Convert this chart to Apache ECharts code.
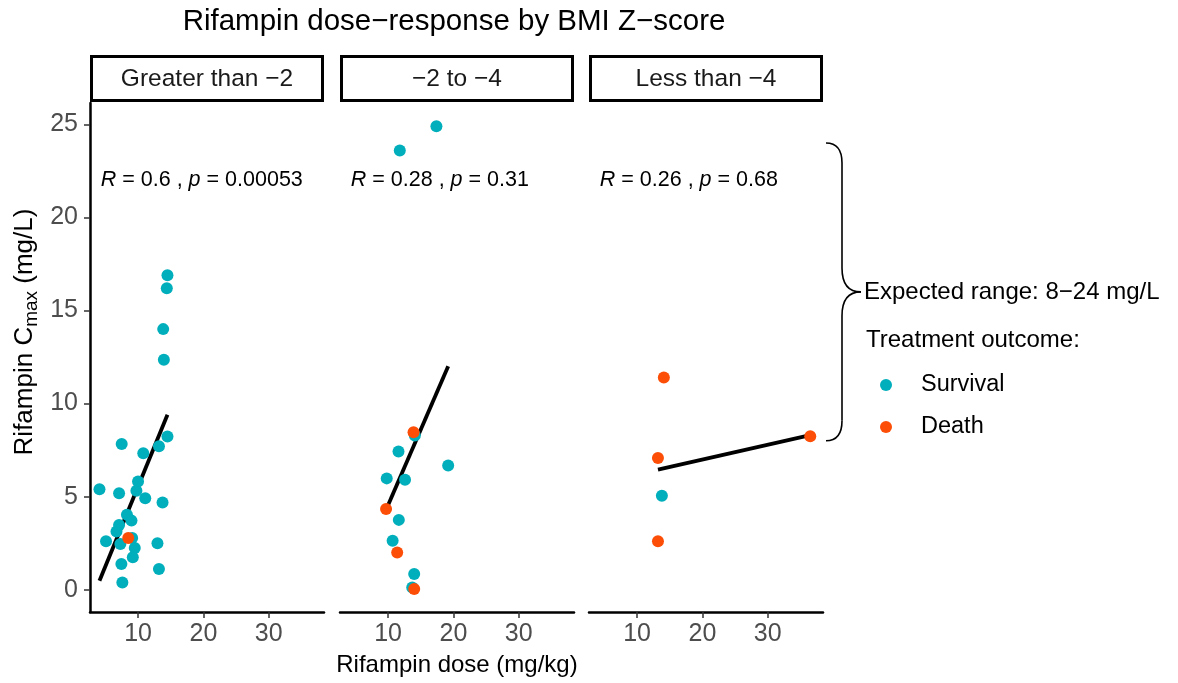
<!DOCTYPE html>
<html><head><meta charset="utf-8">
<script src="https://cdn.jsdelivr.net/npm/echarts@6/dist/echarts.min.js"></script>
<style>html,body{margin:0;padding:0;background:#fff}#c{width:1178px;height:683px}</style>
</head><body><div id="c"></div>
<script>
// ---- data ----
const panelNames = ['Greater than \u22122', '\u22122 to \u22124', 'Less than \u22124'];
const statR = ['0.6', '0.28', '0.26'];
const statP = ['0.00053', '0.31', '0.68'];
const statPos = [4.3, 22];           // data position of correlation labels
const expectedRange = [8, 24];
const xTicks = [10, 20, 30];
const yTicks = [0, 5, 10, 15, 20, 25];
const xRange = [2.65, 38.45];
const yRange = [-1.2, 26.15];

const g1Survival = [[14.5,16.9],[14.4,16.2],[13.85,14.0],[13.95,12.35],[14.5,8.23],[13.2,7.7],[7.5,7.83],[10.8,7.33],[10.0,5.81],[9.75,5.32],[4.1,5.39],[7.1,5.18],[11.1,4.91],[13.75,4.69],[8.3,4.03],[9.0,3.71],[7.1,3.48],[6.7,3.13],[5.1,2.6],[7.3,2.46],[9.1,2.78],[9.5,2.24],[9.2,1.74],[12.97,2.49],[7.45,1.38],[13.2,1.11],[7.6,0.39]];
const g1Death = [[8.5,2.78]];
const g1Fit = [[4.1,0.48],[14.5,9.4]];

const g2Survival = [[17.4,24.9],[11.8,23.6],[14.1,8.28],[11.6,7.42],[19.2,6.67],[9.8,5.98],[12.6,5.9],[11.65,3.75],[10.7,2.63],[14.0,0.84],[13.7,0.12]];
const g2Death = [[13.9,8.46],[9.7,4.34],[11.4,2.0],[14.0,0.04]];
const g2Fit = [[9.7,4.3],[19.2,12.0]];

const g3Survival = [[13.8,5.05]];
const g3Death = [[14.1,11.4],[13.2,7.08],[13.2,2.6],[36.5,8.24]];
const g3Fit = [[13.2,6.45],[36.5,8.3]];

const survival = [g1Survival, g2Survival, g3Survival];
const death = [g1Death, g2Death, g3Death];
const fits = [g1Fit, g2Fit, g3Fit];

// ---- style / layout ----
const FONT = "'Liberation Sans', Arial, Helvetica, sans-serif";
const TEAL = '#00AFBB', ORANGE = '#FC4E07';
const gridLefts = [90, 340, 589];
const gridW = 234, gridTop = 103, gridH = 509;

const chart = echarts.init(document.getElementById('c'));

const grids = [], xAxes = [], yAxes = [], series = [];
for (let i = 0; i < 3; i++) {
  grids.push({left: gridLefts[i], top: gridTop, width: gridW, height: gridH, containLabel: false});
  xAxes.push({
    gridIndex: i, type: 'value', min: xRange[0], max: xRange[1],
    axisLine: {show: true, onZero: false, lineStyle: {color: '#000', width: 2.5}},
    axisTick: {show: true, length: 6, customValues: xTicks, lineStyle: {color: '#333', width: 1.5}},
    axisLabel: {customValues: xTicks, fontSize: 25, color: '#4d4d4d', margin: 10, fontFamily: FONT},
    splitLine: {show: false},
    name: i === 1 ? 'Rifampin dose (mg/kg)' : '',
    nameLocation: 'middle', nameGap: 41,
    nameTextStyle: {fontSize: 24, color: '#000', fontFamily: FONT}
  });
  yAxes.push(i === 0 ? {
    gridIndex: i, type: 'value', min: yRange[0], max: yRange[1],
    axisLine: {show: true, onZero: false, lineStyle: {color: '#000', width: 2.5}},
    axisTick: {show: true, length: 6, customValues: yTicks, lineStyle: {color: '#333', width: 1.5}},
    axisLabel: {customValues: yTicks, fontSize: 25, color: '#4d4d4d', margin: 12, fontFamily: FONT},
    splitLine: {show: false}
  } : {gridIndex: i, type: 'value', min: yRange[0], max: yRange[1], show: false, splitLine: {show: false}});
  series.push({
    name: 'fit' + i, type: 'line', xAxisIndex: i, yAxisIndex: i, data: fits[i],
    showSymbol: false, symbol: 'none', lineStyle: {color: '#000', width: 3.8}, z: 2, silent: true
  });
  series.push({
    name: 'Survival', type: 'scatter', xAxisIndex: i, yAxisIndex: i, data: survival[i],
    symbolSize: 12, itemStyle: {color: TEAL, opacity: 1}, z: 3
  });
  series.push({
    name: 'Death', type: 'scatter', xAxisIndex: i, yAxisIndex: i, data: death[i],
    symbolSize: 12, itemStyle: {color: ORANGE, opacity: 1}, z: 4
  });
}

const option = {
  animation: false,
  backgroundColor: '#fff',
  title: {
    text: 'Rifampin dose\u2212response by BMI Z\u2212score',
    left: 454, top: 7, padding: 0, textAlign: 'center',
    textStyle: {fontSize: 29.5, fontWeight: 'normal', color: '#000', fontFamily: FONT}
  },
  grid: grids, xAxis: xAxes, yAxis: yAxes, series: series,
  legend: {
    data: ['Survival', 'Death'], orient: 'vertical', left: 875, top: 368,
    itemWidth: 60, itemHeight: 12, itemGap: 18, icon: 'circle', selectedMode: false,
    textStyle: {fontSize: 23.5, color: '#000', fontFamily: FONT, lineHeight: 24}
  }
};
chart.setOption(option);

// ---- annotations built from the axes ----
const g = [];
for (let i = 0; i < 3; i++) {
  // strip box
  g.push({type: 'rect', shape: {x: gridLefts[i] + 1.5, y: 56.5, width: gridW - 3, height: 44},
    style: {fill: '#fff', stroke: '#000', lineWidth: 3}, z: 10});
  g.push({type: 'text', x: gridLefts[i] + gridW / 2, y: 79,
    style: {text: panelNames[i], fontSize: 24.5, fill: '#1a1a1a', fontFamily: FONT, align: 'center', verticalAlign: 'middle'}, z: 11});
  const p = chart.convertToPixel({xAxisIndex: i, yAxisIndex: i}, statPos);
  g.push({type: 'text', x: p[0], y: p[1],
    style: {text: '{i|R} = ' + statR[i] + ' , {i|p} = ' + statP[i],
      fontSize: 21.5, fill: '#000', fontFamily: FONT, align: 'left', verticalAlign: 'middle',
      rich: {i: {fontStyle: 'italic', fontSize: 21.5, fontFamily: FONT, fill: '#000'}}}, z: 11});
}
// y axis title (centered on panel + strip)
g.push({type: 'text', x: 25, y: 332, rotation: Math.PI / 2,
  style: {text: '{n|Rifampin C}{s|max}{n| (mg/L)}', align: 'center', verticalAlign: 'middle', fill: '#000',
    rich: {n: {fontSize: 26, fontFamily: FONT, fill: '#000', lineHeight: 32, verticalAlign: 'middle'},
           s: {fontSize: 19, fontFamily: FONT, fill: '#000', lineHeight: 32, verticalAlign: 'bottom'}}}});

// brace for expected range
const yTop = chart.convertToPixel({xAxisIndex: 2, yAxisIndex: 2}, [xRange[1], expectedRange[1]])[1];
const yBot = chart.convertToPixel({xAxisIndex: 2, yAxisIndex: 2}, [xRange[1], expectedRange[0]])[1];
const yMid = (yTop + yBot) / 2;
const bx0 = gridLefts[2] + gridW + 3, bx1 = bx0 + 16, bx2 = bx0 + 35;
const bs = {stroke: '#000', lineWidth: 1.6, fill: 'none'};
g.push({type: 'bezierCurve', shape: {x1: bx0, y1: yTop, cpx1: bx1, cpy1: yTop, x2: bx1, y2: yTop + 20}, style: bs});
g.push({type: 'line', shape: {x1: bx1, y1: yTop + 20, x2: bx1, y2: yMid - 24}, style: bs});
g.push({type: 'bezierCurve', shape: {x1: bx1, y1: yMid - 24, cpx1: bx1, cpy1: yMid, x2: bx2, y2: yMid}, style: bs});
g.push({type: 'bezierCurve', shape: {x1: bx2, y1: yMid, cpx1: bx1, cpy1: yMid, x2: bx1, y2: yMid + 24}, style: bs});
g.push({type: 'line', shape: {x1: bx1, y1: yMid + 24, x2: bx1, y2: yBot - 20}, style: bs});
g.push({type: 'bezierCurve', shape: {x1: bx1, y1: yBot - 20, cpx1: bx1, cpy1: yBot, x2: bx0, y2: yBot}, style: bs});
g.push({type: 'text', x: bx2 + 3, y: yMid,
  style: {text: 'Expected range: ' + expectedRange[0] + '\u2212' + expectedRange[1] + ' mg/L',
    fontSize: 24, fill: '#000', fontFamily: FONT, align: 'left', verticalAlign: 'middle'}});
g.push({type: 'text', x: 866, y: 340,
  style: {text: 'Treatment outcome:', fontSize: 24, fill: '#000', fontFamily: FONT, align: 'left', verticalAlign: 'middle'}});

chart.setOption({graphic: g});
</script></body></html>
